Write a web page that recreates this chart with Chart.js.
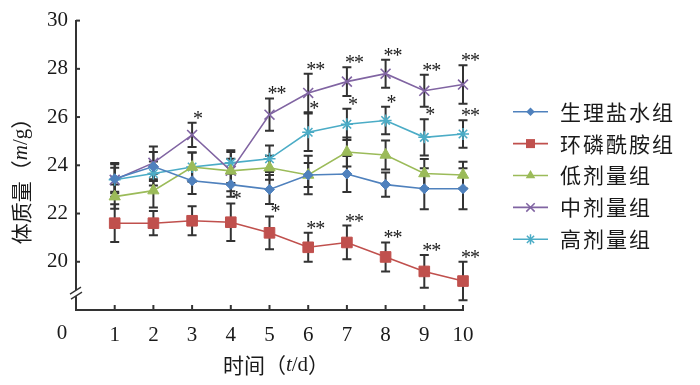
<!DOCTYPE html>
<html><head><meta charset="utf-8">
<script src="https://cdn.jsdelivr.net/npm/chart.js@4.4.1/dist/chart.umd.min.js"></script>
<style>html,body{margin:0;padding:0;background:#fff;}#wrap{width:700px;height:385px;position:relative;}</style>
</head><body><div id="wrap"><canvas id="c" width="700" height="385"></canvas></div>
<script>
// ---- data ----
const days = [1, 2, 3, 4, 5, 6, 7, 8, 9, 10];
const yTicks = [20, 22, 24, 26, 28, 30];
const seriesNames = ['生理盐水组', '环磷酰胺组', '低剂量组', '中剂量组', '高剂量组'];
const saline = [23.44, 23.95, 23.36, 23.2, 23.0, 23.6, 23.64, 23.2, 23.03, 23.03];
const salineErr = [0.6, 0.6, 0.55, 0.5, 0.6, 0.8, 0.75, 0.5, 0.85, 0.85];
const cyclo = [21.6, 21.6, 21.7, 21.64, 21.2, 20.6, 20.8, 20.2, 19.6, 19.2];
const cycloErr = [0.78, 0.5, 0.6, 0.78, 0.68, 0.6, 0.7, 0.6, 0.68, 0.8];
const lowDose = [22.7, 22.95, 23.93, 23.77, 23.9, 23.6, 24.55, 24.43, 23.66, 23.6];
const lowErr = [0.5, 0.7, 0.6, 0.5, 0.5, 0.5, 0.6, 0.6, 0.6, 0.55];
const midDose = [23.4, 24.1, 25.26, 23.77, 26.1, 27.0, 27.47, 27.8, 27.09, 27.35];
const midErr = [0.7, 0.68, 0.5, 0.85, 0.67, 0.8, 0.6, 0.58, 0.66, 0.8];
const highDose = [23.4, 23.66, 23.93, 24.1, 24.27, 25.37, 25.7, 25.86, 25.16, 25.3];
const highErr = [0.5, 0.5, 0.6, 0.45, 0.55, 0.78, 0.65, 0.57, 0.75, 0.57];
const cycloSig = ['', '', '', '*', '*', '**', '**', '**', '**', '**'];
const midSig = ['', '', '*', '', '**', '**', '**', '**', '**', '**'];
const highSig = ['', '', '', '', '', '*', '*', '*', '*', '**'];

const values = [saline, cyclo, lowDose, midDose, highDose];
const errors = [salineErr, cycloErr, lowErr, midErr, highErr];
const sigs = [null, cycloSig, null, midSig, highSig];
const colors = ['#4F81BD', '#C0504D', '#9BBB59', '#8064A2', '#4BACC6'];
const styles = [
  {pointStyle: 'rectRot', radius: 5},
  {pointStyle: 'rect', radius: 7.5},
  {pointStyle: 'triangle', radius: 6.5},
  {pointStyle: 'crossRot', radius: 7},
  {pointStyle: 'star', radius: 6}
];
const CJK = '"Noto Sans CJK SC", sans-serif';
const SERIF = '"Liberation Serif", "DejaVu Serif", serif';

const datasets = values.map((arr, i) => ({
  label: seriesNames[i],
  data: days.map((d, k) => ({x: d, y: arr[k]})),
  borderColor: colors[i],
  backgroundColor: colors[i],
  pointBackgroundColor: colors[i],
  pointBorderColor: colors[i],
  borderWidth: 1.6,
  pointStyle: styles[i].pointStyle,
  pointRadius: styles[i].radius,
  pointBorderWidth: (styles[i].pointStyle === 'crossRot' || styles[i].pointStyle === 'star') ? 1.6 : 1,
  tension: 0,
  clip: false
}));

function marker(ctx, style, x, y, r, color) {
  ctx.save();
  ctx.fillStyle = color; ctx.strokeStyle = color; ctx.lineWidth = 1.5;
  ctx.beginPath();
  if (style === 'rectRot') {
    ctx.moveTo(x - r, y); ctx.lineTo(x, y - r); ctx.lineTo(x + r, y); ctx.lineTo(x, y + r); ctx.closePath(); ctx.fill();
  } else if (style === 'rect') {
    const s = r * Math.SQRT1_2; ctx.rect(x - s, y - s, 2 * s, 2 * s); ctx.fill();
  } else if (style === 'triangle') {
    ctx.moveTo(x, y - r); ctx.lineTo(x + r * 0.866, y + r / 2); ctx.lineTo(x - r * 0.866, y + r / 2); ctx.closePath(); ctx.fill();
  } else if (style === 'crossRot') {
    const s = r * Math.SQRT1_2;
    ctx.moveTo(x - s, y - s); ctx.lineTo(x + s, y + s); ctx.moveTo(x + s, y - s); ctx.lineTo(x - s, y + s); ctx.stroke();
  } else if (style === 'star') {
    const s = r * Math.SQRT1_2;
    ctx.moveTo(x - s, y - s); ctx.lineTo(x + s, y + s); ctx.moveTo(x + s, y - s); ctx.lineTo(x - s, y + s);
    ctx.moveTo(x, y - r); ctx.lineTo(x, y + r); ctx.stroke();
  }
  ctx.restore();
}

function drawRich(ctx, parts, cx, cy, rot) {
  ctx.save();
  ctx.translate(cx, cy);
  if (rot) ctx.rotate(rot);
  let total = 0;
  parts.forEach(p => { ctx.font = p.f; p.w = ctx.measureText(p.t).width; total += p.w; });
  let x = -total / 2;
  ctx.textBaseline = 'middle'; ctx.textAlign = 'left'; ctx.fillStyle = '#1a1a1a';
  parts.forEach(p => { ctx.font = p.f; ctx.fillText(p.t, x, p.dy || 0); x += p.w; });
  ctx.restore();
}

const errorBars = {
  id: 'errorBars',
  beforeDatasetsDraw(chart) {
    const ctx = chart.ctx, xs = chart.scales.x, ys = chart.scales.y;
    ctx.save();
    ctx.strokeStyle = '#333'; ctx.lineWidth = 2;
    values.forEach((arr, i) => {
      arr.forEach((v, k) => {
        const px = xs.getPixelForValue(days[k]);
        const top = ys.getPixelForValue(v + errors[i][k]);
        const bot = ys.getPixelForValue(v - errors[i][k]);
        ctx.beginPath();
        ctx.moveTo(px, top); ctx.lineTo(px, bot);
        ctx.moveTo(px - 4.5, top); ctx.lineTo(px + 4.5, top);
        ctx.moveTo(px - 4.5, bot); ctx.lineTo(px + 4.5, bot);
        ctx.stroke();
      });
    });
    ctx.restore();
  },
  afterDatasetsDraw(chart) {
    const ctx = chart.ctx, xs = chart.scales.x, ys = chart.scales.y;
    ctx.save();
    ctx.fillStyle = '#1a1a1a';
    ctx.font = '20px ' + SERIF;
    ctx.textAlign = 'center'; ctx.textBaseline = 'alphabetic';
    sigs.forEach((s, i) => {
      if (!s) return;
      s.forEach((m, k) => {
        if (!m) return;
        const px = xs.getPixelForValue(days[k]);
        const top = ys.getPixelForValue(values[i][k] + errors[i][k]);
        const base = top + 2;
        if (m === '*') ctx.fillText('*', px + 6, base);
        else { ctx.fillText('*', px + 3, base); ctx.fillText('*', px + 12, base); }
      });
    });
    ctx.restore();
  }
};

const decor = {
  id: 'decor',
  afterDraw(chart) {
    const ctx = chart.ctx, xs = chart.scales.x, ys = chart.scales.y;
    const left = chart.chartArea.left, bottom = chart.chartArea.bottom;
    ctx.save();
    ctx.strokeStyle = '#333'; ctx.lineWidth = 2;
    // inward ticks
    yTicks.forEach(v => {
      const py = ys.getPixelForValue(v);
      ctx.beginPath(); ctx.moveTo(left, py); ctx.lineTo(left + 4, py); ctx.stroke();
    });
    days.forEach(d => {
      const px = xs.getPixelForValue(d);
      ctx.beginPath(); ctx.moveTo(px, bottom); ctx.lineTo(px, bottom - 5); ctx.stroke();
    });
    // axis break
    const by = ys.getPixelForValue(18.7);
    ctx.fillStyle = '#fff';
    ctx.fillRect(left - 3, by - 3, 6, 6);
    ctx.lineWidth = 1.3;
    ctx.beginPath();
    ctx.moveTo(left - 6, by + 1); ctx.lineTo(left + 5, by - 6);
    ctx.moveTo(left - 5, by + 6); ctx.lineTo(left + 6, by - 1);
    ctx.stroke();
    // origin label
    ctx.fillStyle = '#1a1a1a';
    ctx.font = '21px ' + SERIF;
    ctx.textAlign = 'center'; ctx.textBaseline = 'top';
    ctx.fillText('0', left - 14, bottom + 13);
    // axis titles
    drawRich(ctx, [
      {t: '时间（', f: '21px ' + CJK},
      {t: 't', f: 'italic 21px ' + SERIF},
      {t: '/d', f: '21px ' + SERIF},
      {t: '）', f: '21px ' + CJK}
    ], 276, 365, 0);
    drawRich(ctx, [
      {t: '体质量（', f: '21px ' + CJK},
      {t: 'm', f: 'italic 21px ' + SERIF},
      {t: '/g', f: '21px ' + SERIF},
      {t: '）', f: '21px ' + CJK}
    ], 21, 176, -Math.PI / 2);
    // legend
    const lx0 = 513, lx1 = 548, tx = 560;
    seriesNames.forEach((name, i) => {
      const y = 111.7 + i * 31.9;
      ctx.strokeStyle = colors[i]; ctx.lineWidth = 1.6;
      ctx.beginPath(); ctx.moveTo(lx0, y); ctx.lineTo(lx1, y); ctx.stroke();
      marker(ctx, styles[i].pointStyle, (lx0 + lx1) / 2, y, styles[i].radius * 0.85, colors[i]);
      ctx.fillStyle = '#1a1a1a';
      ctx.font = '21px ' + CJK;
      ctx.textAlign = 'left'; ctx.textBaseline = 'middle';
      try { ctx.letterSpacing = '2px'; } catch (e) {}
      ctx.fillText(name, tx, y);
      try { ctx.letterSpacing = '0px'; } catch (e) {}
    });
    ctx.restore();
  }
};

new Chart(document.getElementById('c'), {
  type: 'line',
  data: {datasets},
  options: {
    responsive: false,
    animation: false,
    devicePixelRatio: 1,
    layout: {padding: {top: 17, right: 237, left: 0, bottom: 0}},
    plugins: {legend: {display: false}, tooltip: {enabled: false}},
    scales: {
      x: {
        type: 'linear', min: 0, max: 10,
        grid: {display: false, drawTicks: false},
        border: {display: true, color: '#333', width: 2},
        ticks: {stepSize: 1, autoSkip: false, maxRotation: 0, padding: 13, color: '#1a1a1a',
          font: {family: SERIF, size: 21},
          callback: v => (v === 0 ? '' : String(v))},
        afterFit: s => { s.height = 75; }
      },
      y: {
        min: 18, max: 30,
        grid: {display: false, drawTicks: false},
        border: {display: true, color: '#333', width: 2},
        ticks: {stepSize: 2, padding: 8, color: '#1a1a1a',
          font: {family: SERIF, size: 21},
          callback: v => (yTicks.includes(v) ? String(v) : '')},
        afterFit: s => { s.width = 76; }
      }
    }
  },
  plugins: [errorBars, decor]
});
</script></body></html>
